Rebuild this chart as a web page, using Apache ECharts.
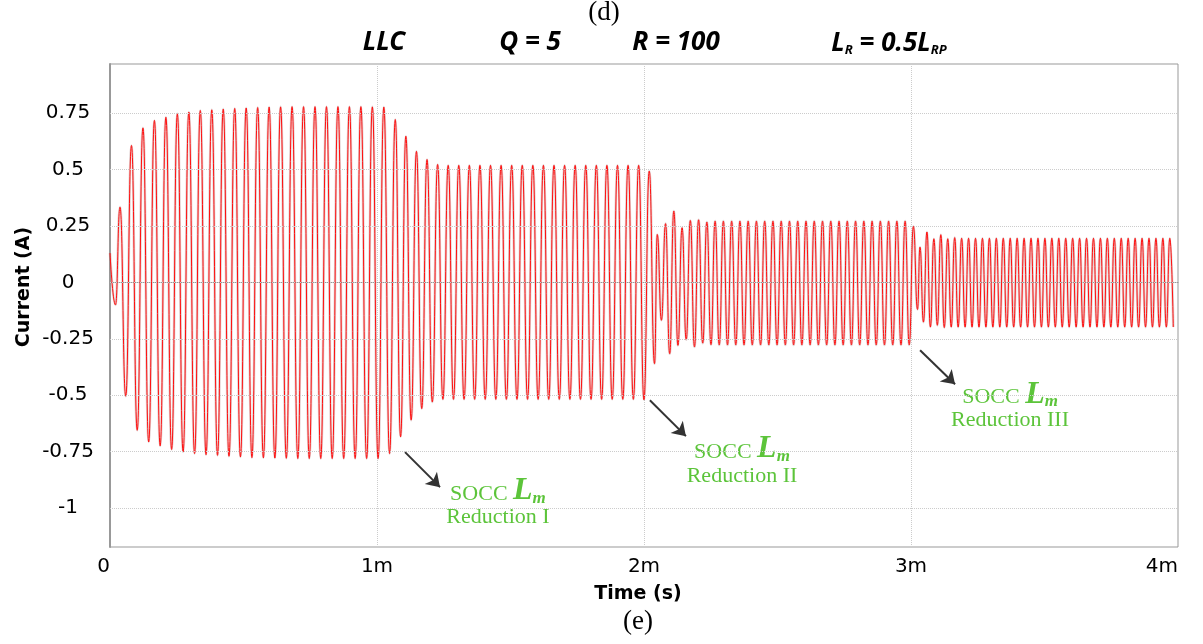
<!DOCTYPE html>
<html>
<head>
<meta charset="utf-8">
<script src="https://cdn.jsdelivr.net/npm/echarts@6/dist/echarts.min.js"></script>
<style>
html,body{margin:0;padding:0;background:#fff;}
#chart{width:1203px;height:644px;}
</style>
</head>
<body>
<div id="chart"></div>
<script>
// ---- data (time in ms, current in A) ----
const leadTimes  = [0, 0.0206];
const leadValues = [0.13, -0.10];

// first-peak time and switching period of each interval (ms)
const segStart  = [0.0375, 1.0685, 2.0498, 3.0337];
const segPeriod = [0.04296, 0.03963, 0.03094, 0.02599];

const peaksA   = [0.333,0.606,0.684,0.717,0.731,0.746,0.754,0.761,0.764,0.767,0.770,0.772,0.774,0.776,0.777,0.778,0.778,0.778,0.778,0.778,0.778,0.778,0.777,0.776];
const troughsA = [-0.504,-0.655,-0.707,-0.724,-0.740,-0.751,-0.758,-0.763,-0.766,-0.770,-0.773,-0.776,-0.777,-0.778,-0.779,-0.780,-0.780,-0.780,-0.780,-0.780,-0.780,-0.780,-0.780,-0.758];

const peaksB   = [0.721,0.647,0.580,0.544,0.522,0.518,0.518,0.518,0.518,0.518,0.518,0.518,0.518,0.518,0.518,0.518,0.518,0.518,0.518,0.518,0.518,0.518,0.518,0.518,0.493];
const troughsB = [-0.684,-0.610,-0.559,-0.530,-0.518,-0.518,-0.518,-0.518,-0.518,-0.518,-0.518,-0.518,-0.518,-0.518,-0.518,-0.518,-0.518,-0.518,-0.518,-0.518,-0.518,-0.518,-0.518,-0.520,-0.360];

const peaksC   = [0.212,0.260,0.316,0.242,0.274,0.277,0.267,0.271,0.271,0.271,0.271,0.271,0.271,0.271,0.271,0.271,0.271,0.271,0.271,0.271,0.271,0.271,0.271,0.271,0.271,0.271,0.271,0.271,0.271,0.271,0.271,0.248];
const troughsC = [-0.168,-0.316,-0.279,-0.254,-0.286,-0.269,-0.276,-0.277,-0.277,-0.277,-0.277,-0.277,-0.277,-0.277,-0.277,-0.277,-0.277,-0.277,-0.277,-0.277,-0.277,-0.277,-0.277,-0.277,-0.277,-0.277,-0.277,-0.277,-0.277,-0.277,-0.277,-0.120];

const peaksD   = [0.156,0.223,0.193,0.211,0.193,0.198,0.195,0.195,0.195,0.195,0.195,0.195,0.195,0.195,0.195,0.195,0.195,0.195,0.195,0.195,0.195,0.195,0.195,0.195,0.195,0.195,0.195,0.195,0.195,0.195,0.195,0.195,0.195,0.195,0.195,0.195,0.195];
const troughsD = [-0.176,-0.198,-0.190,-0.200,-0.198,-0.198,-0.198,-0.198,-0.198,-0.198,-0.198,-0.198,-0.198,-0.198,-0.198,-0.198,-0.198,-0.198,-0.198,-0.198,-0.198,-0.198,-0.198,-0.198,-0.198,-0.198,-0.198,-0.198,-0.198,-0.198,-0.198,-0.198,-0.198,-0.198,-0.198,-0.198,-0.198];

const yTicks = [-1, -0.75, -0.5, -0.25, 0, 0.25, 0.5, 0.75];
const xTicks = ['0', '1m', '2m', '3m', '4m'];

// annotation anchors (data coords)
const arrows = [
  [[1.105, -0.752], [1.236, -0.907]],
  [[2.022, -0.522], [2.157, -0.681]],
  [[3.034, -0.301], [3.165, -0.451]]
];
const noteLabels = ['Reduction I', 'Reduction II', 'Reduction III'];
const noteAnchors = [[1.453, -0.929, -1.040], [2.367, -0.743, -0.858], [3.371, -0.500, -0.611]];

// ---- build the trace from the extremes ----
const peakSets = [peaksA, peaksB, peaksC, peaksD];
const troughSets = [troughsA, troughsB, troughsC, troughsD];
const trace = [];
for (let i = 0; i < leadTimes.length; i++) trace.push([leadTimes[i], leadValues[i]]);
for (let s = 0; s < 4; s++) {
  const p = peakSets[s], q = troughSets[s];
  for (let k = 0; k < p.length; k++) {
    trace.push([segStart[s] + k * segPeriod[s], p[k]]);
    trace.push([segStart[s] + (k + 0.5) * segPeriod[s], q[k]]);
  }
}

const chart = echarts.init(document.getElementById('chart'), null, {renderer: 'canvas'});
const GREEN = '#5cc43a';
const tickFont = 'DejaVu Sans';

chart.setOption({
  animation: false,
  backgroundColor: '#fff',
  grid: {left: 110, right: 25, top: 64, bottom: 97, show: true, borderColor: '#999', borderWidth: 1, backgroundColor: '#fff'},
  xAxis: {
    type: 'value', min: 0, max: 4, interval: 1,
    axisLine: {show: true, lineStyle: {color: '#999', width: 1}},
    axisTick: {show: false},
    axisLabel: {fontFamily: tickFont, fontSize: 20, color: '#000', margin: 10,
      alignMinLabel: 'right', alignMaxLabel: 'right',
      formatter: v => xTicks[Math.round(v)]},
    splitLine: {show: true, lineStyle: {type: 'dotted', color: '#ccc', width: 1}}
  },
  yAxis: {
    type: 'value', min: -1.172, max: 0.967,
    axisLine: {show: true, lineStyle: {color: '#999', width: 2}},
    axisTick: {show: false, customValues: yTicks},
    axisLabel: {fontFamily: tickFont, fontSize: 20, color: '#000', margin: 42, align: 'center',
      customValues: yTicks, formatter: v => String(v)},
    splitLine: {show: false}
  },
  series: [{
    type: 'line',
    data: trace,
    showSymbol: false,
    smooth: 0.5,
    smoothMonotone: 'x',
    lineStyle: {color: '#b08080', width: 2.6, opacity: 0.35},
    z: 2,
    silent: true,
    markLine: {
      silent: true,
      symbol: ['none', 'none'],
      label: {show: false},
      lineStyle: {type: 'dotted', color: '#ccc', width: 1},
      data: yTicks.map(v => ({yAxis: v}))
    }
  }, {
    type: 'line',
    data: trace,
    showSymbol: false,
    smooth: 0.5,
    smoothMonotone: 'x',
    lineStyle: {color: '#ff1010', width: 1},
    z: 3
  }, {
    type: 'line',
    data: [],
    markLine: {
      silent: true,
      symbol: ['none', 'arrow'],
      symbolSize: 13,
      label: {show: false},
      lineStyle: {type: 'solid', color: '#333', width: 2},
      data: arrows.map(a => [{coord: a[0]}, {coord: a[1]}])
    }
  }]
});

// text graphics, positioned through the axes
const g = [];
g.push({type: 'text', x: 604, y: 13, style: {text: '(d)', font: '27px "Liberation Serif"', fill: '#000', align: 'center', verticalAlign: 'middle'}});
g.push({type: 'text', x: 638, y: 622, style: {text: '(e)', font: '27px "Liberation Serif"', fill: '#000', align: 'center', verticalAlign: 'middle'}});
g.push({type: 'text', x: 638, y: 594, style: {text: 'Time (s)', font: 'bold 19px "DejaVu Sans"', fill: '#000', align: 'center', verticalAlign: 'middle'}});
g.push({type: 'text', x: 24, y: 287, rotation: Math.PI / 2, style: {text: 'Current (A)', font: 'bold 19px "DejaVu Sans"', fill: '#000', align: 'center', verticalAlign: 'middle'}});
const titleFont = 'italic bold 26px "Noto Sans"';
g.push({type: 'text', x: 384, y: 43, style: {text: 'LLC', font: titleFont, fill: '#000', align: 'center', verticalAlign: 'middle'}});
g.push({type: 'text', x: 530, y: 43, style: {text: 'Q = 5', font: titleFont, fill: '#000', align: 'center', verticalAlign: 'middle'}});
g.push({type: 'text', x: 676, y: 43, style: {text: 'R = 100', font: titleFont, fill: '#000', align: 'center', verticalAlign: 'middle'}});
g.push({type: 'text', x: 889, y: 43, style: {
  text: '{i|L}{s|R}{i| = 0.5L}{s|RP}', align: 'center', verticalAlign: 'middle',
  rich: {
    i: {fontFamily: 'Noto Sans', fontStyle: 'italic', fontWeight: 'bold', fontSize: 26, lineHeight: 28, verticalAlign: 'bottom', fill: '#000'},
    s: {fontFamily: 'Noto Sans', fontStyle: 'italic', fontWeight: 'bold', fontSize: 13, lineHeight: 8, verticalAlign: 'bottom', fill: '#000'}
  }
}});
noteAnchors.forEach((a, i) => {
  const p1 = chart.convertToPixel({gridIndex: 0}, [a[0], a[1]]);
  const p2 = chart.convertToPixel({gridIndex: 0}, [a[0], a[2]]);
  g.push({type: 'text', x: p1[0], y: p1[1], style: {
    text: '{a|SOCC }{b|L}{c|m}', align: 'center', verticalAlign: 'middle',
    rich: {
      a: {fontFamily: 'Liberation Serif', fontSize: 22, lineHeight: 30, verticalAlign: 'bottom', fill: GREEN, padding: [0, 0, 2, 0]},
      b: {fontFamily: 'Liberation Serif', fontStyle: 'italic', fontWeight: 'bold', fontSize: 32, lineHeight: 30, verticalAlign: 'bottom', fill: GREEN},
      c: {fontFamily: 'Liberation Serif', fontStyle: 'italic', fontWeight: 'bold', fontSize: 17, lineHeight: 8, verticalAlign: 'bottom', fill: GREEN}
    }
  }});
  g.push({type: 'text', x: p2[0], y: p2[1], style: {text: noteLabels[i], font: '22px "Liberation Serif"', fill: GREEN, align: 'center', verticalAlign: 'middle'}});
});
chart.setOption({graphic: g});
</script>
</body>
</html>
